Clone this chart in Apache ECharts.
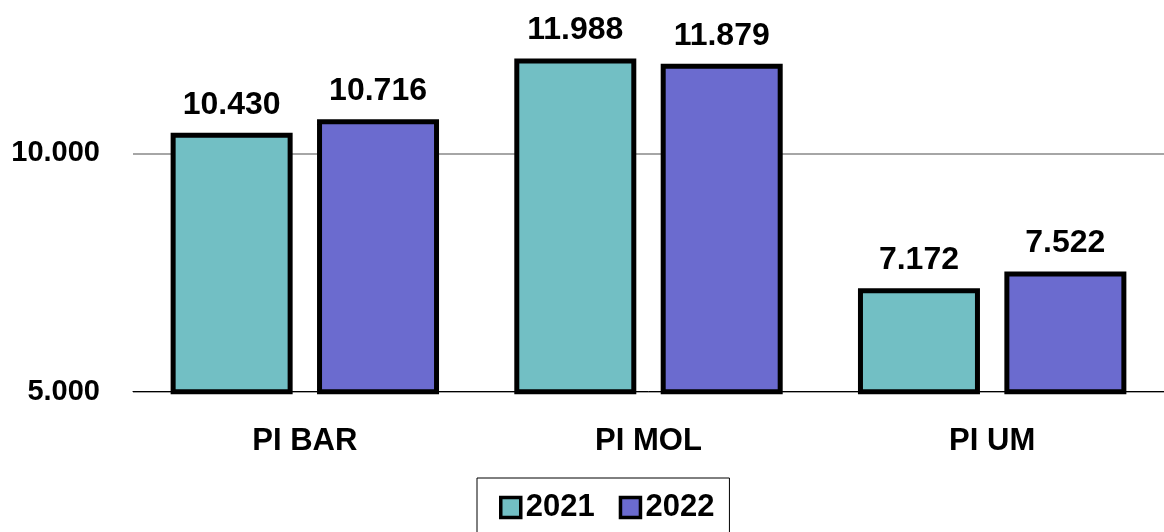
<!DOCTYPE html>
<html>
<head>
<meta charset="utf-8">
<script src="https://cdn.jsdelivr.net/npm/echarts@6/dist/echarts.min.js"></script>
<style>
  html, body { margin: 0; padding: 0; background: #fff; }
  #chart { width: 1164px; height: 532px; }
</style>
</head>
<body>
<div id="chart"></div>
<script>
var categories = ['PI BAR', 'PI MOL', 'PI UM']
var values2021 = [10430, 11988, 7172]
var values2022 = [10716, 11879, 7522]
var seriesNames = ['2021', '2022']

var font = '"Liberation Sans", Arial, sans-serif'
var color2021 = '#72BFC4'
var color2022 = '#6B6BCF'

// thousands with a dot, as in the original
function fmt (v) {
  return v.toLocaleString('de-DE')
}

var chart = echarts.init(document.getElementById('chart'))

function barSeries (name, data, color) {
  return {
    name: name,
    type: 'bar',
    data: data,
    barWidth: 122,
    barGap: '20%',
    itemStyle: {
      color: color,
      borderColor: '#000',
      borderWidth: 5
    },
    label: {
      show: true,
      position: 'top',
      distance: 12,
      fontFamily: font,
      fontWeight: 'bold',
      fontSize: 32,
      color: '#000',
      formatter: function (p) { return fmt(p.value) }
    }
  }
}

var option = {
  animation: false,
  backgroundColor: '#fff',
  grid: {
    left: 133,
    right: 0,
    top: 0,
    bottom: 140.3
  },
  legend: {
    top: 478,
    left: 477,
    data: seriesNames,
    icon: 'rect',
    itemWidth: 20,
    itemHeight: 20,
    itemGap: 24,
    padding: [14, 15, 30, 22],
    borderColor: '#000',
    borderWidth: 1,
    itemStyle: { borderColor: '#000', borderWidth: 3.5 },
    textStyle: {
      fontFamily: font,
      fontWeight: 'bold',
      fontSize: 31,
      color: '#000'
    }
  },
  xAxis: {
    type: 'category',
    data: categories,
    axisLine: { show: true, lineStyle: { color: '#000', width: 1 } },
    axisTick: { show: false },
    axisLabel: {
      margin: 34,
      fontFamily: font,
      fontWeight: 'bold',
      fontSize: 31,
      color: '#000'
    }
  },
  yAxis: {
    type: 'value',
    min: 5000,
    max: 13215,
    interval: 5000,
    axisLine: { show: false },
    axisTick: { show: false },
    splitLine: { showMaxLine: false, lineStyle: { color: '#888', width: 1.5 } },
    axisLabel: {
      margin: 33,
      showMaxLabel: false,
      fontFamily: font,
      fontWeight: 'bold',
      fontSize: 29,
      color: '#000',
      formatter: function (v) { return fmt(v) }
    }
  },
  series: [
    barSeries(seriesNames[0], values2021, color2021),
    barSeries(seriesNames[1], values2022, color2022)
  ]
}

chart.setOption(option)
</script>
</body>
</html>
